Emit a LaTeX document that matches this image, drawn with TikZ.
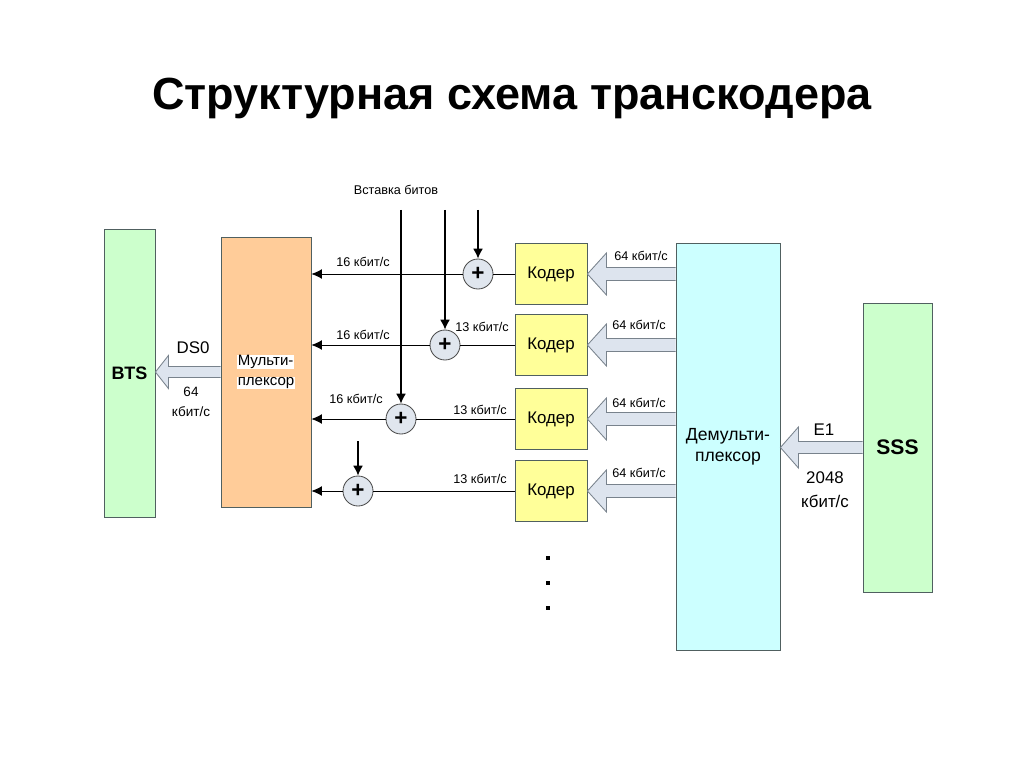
\documentclass[tikz,border=0pt]{standalone}
\usepackage{fontspec}
\setmainfont{Liberation Sans}
\usetikzlibrary{arrows.meta,positioning,calc}

\definecolor{stgreen}{RGB}{204,255,204}
\definecolor{muxpeach}{RGB}{255,204,153}
\definecolor{demuxcyan}{RGB}{204,255,255}
\definecolor{codyellow}{RGB}{255,255,153}
\definecolor{boxline}{RGB}{80,96,96}
\definecolor{fatfill}{RGB}{221,228,238}
\definecolor{fatline}{RGB}{120,130,140}
\definecolor{sumfill}{RGB}{224,230,238}

\newlength\px
\setlength\px{0.025cm}

% hollow arrow: tail, tip, head length, head half height, shaft half height
\newcommand{\fatarrow}[5]{%
  \fill[fatfill] (#2) -- ($(#2)+(#3,-#4)$) -- ($(#2)+(#3,-#5)$) -- ($(#1)+(0,-#5)$)
    -- ($(#1)+(0,#5)$) -- ($(#2)+(#3,#5)$) -- ($(#2)+(#3,#4)$) -- cycle;
  \draw[fat] ($(#1)+(0,-#5)$) -- ($(#2)+(#3,-#5)$) -- ($(#2)+(#3,-#4)$) -- (#2)
    -- ($(#2)+(#3,#4)$) -- ($(#2)+(#3,#5)$) -- ($(#1)+(0,#5)$);
}

\begin{document}
\begin{tikzpicture}[
    x=0.025cm, y=-0.025cm,
    box/.style={rectangle, draw=boxline, line width=0.6pt, inner sep=0pt},
    coder/.style={box, fill=codyellow, minimum width=72\px, minimum height=61\px, font=\fontsize{12}{14}\selectfont},
    sum/.style={circle, draw=black!70, fill=sumfill, line width=0.6pt, minimum size=30\px, inner sep=0pt, font=\bfseries\fontsize{16}{16}\selectfont},
    rate/.style={inner sep=0pt, font=\fontsize{9}{10}\selectfont},
    big/.style={inner sep=0pt, align=center, font=\fontsize{12}{14.5}\selectfont},
    sig/.style={-{Latex[length=7.5pt,width=7pt]}, line width=0.6pt},
    ins/.style={-{Latex[length=7pt,width=7pt]}, line width=1pt},
    fat/.style={draw=fatline, line width=0.6pt, line join=miter}
]
    \useasboundingbox (0,0) rectangle (1024,767);

    % Title
    \node[anchor=base, font=\bfseries\fontsize{32}{36}\selectfont] (title) at (512,110)
        {Структурная схема транскодера};

    % Blocks
    \node[box, fill=stgreen, minimum width=51\px, minimum height=288\px,
          font=\bfseries\fontsize{12.8}{14}\selectfont] (bts) at (129.5,373) {BTS};
    \node[box, fill=muxpeach, minimum width=90\px, minimum height=270\px,
          align=left, font=\fontsize{10.7}{14.2}\selectfont] (mux) at (266,372)
        {\setlength\fboxsep{0.5pt}\colorbox{white}{Мульти-}\\\setlength\fboxsep{0.5pt}\colorbox{white}{плексор}};
    \node[box, fill=demuxcyan, minimum width=104\px, minimum height=407\px,
          align=center, font=\fontsize{12.5}{15}\selectfont] (demux) at (728,446.5) {Демульти-\\плексор};
    \node[box, fill=stgreen, minimum width=69\px, minimum height=289\px,
          font=\bfseries\fontsize{15}{16}\selectfont] (sss) at (897.5,447.5) {SSS};

    % Coders and adders
    \foreach \i/\y/\sx in {1/274/478, 2/345/445, 3/419/401, 4/491/358} {
        \node[coder] (cod\i) at (551,\y) {Кодер};
        \node[sum] (sum\i) at (\sx,\y) {+};
        \coordinate (dm\i) at (demux.west |- cod\i.east);
        \fatarrow{dm\i}{cod\i.east}{19}{21}{6.5}
        \draw[line width=0.6pt] (cod\i) -- (sum\i);
        \draw[sig] (sum\i) -- (sum\i -| mux.east);
    }

    % Rates
    \foreach \i/\lx/\ly in {1/363/262, 2/363/335, 3/356/399}
        \node[rate] (r16\i) at (\lx,\ly) {16 кбит/с};
    \foreach \i/\lx/\ly in {2/482/327, 3/480/410, 4/480/479}
        \node[rate] (r13\i) at (\lx,\ly) {13 кбит/с};
    \foreach \i/\lx/\ly in {1/641/256, 2/639/325, 3/639/403, 4/639/473}
        \node[rate] (r64\i) at (\lx,\ly) {64 кбит/с};

    % Bit insertion
    \node[rate] (insert) at (396,190) {Вставка битов};
    \coordinate (vtop) at (0,210);
    \coordinate (ins4) at (358,441);
    \draw[ins] (sum3 |- vtop) -- (sum3.north);
    \draw[ins] (sum2 |- vtop) -- (sum2.north);
    \draw[ins] (sum1 |- vtop) -- (sum1.north);
    \draw[ins] (ins4) -- (sum4.north);

    % Trunks
    \coordinate (btsin) at (bts.east |- mux.west);
    \fatarrow{mux.west}{btsin}{13}{16.5}{5.5}
    \node[big] (ds0) at (193,348) {DS0};
    \node[inner sep=0pt, align=center, font=\fontsize{9.6}{14}\selectfont] (ds0rate) at (191,402) {64\\кбит/с};
    \coordinate (demuxin) at (demux.east |- sss.west);
    \fatarrow{sss.west}{demuxin}{18}{20.5}{6}
    \node[big] (e1) at (824,430) {E1};
    \node[big, font=\fontsize{12}{17}\selectfont] (e1rate) at (825,490) {2048\\кбит/с};

    % More coders
    \foreach \y in {558,583,608}
        \node[rectangle, fill=black, minimum size=4\px, inner sep=0pt] (dot\y) at (548,\y) {};
\end{tikzpicture}
\end{document}
